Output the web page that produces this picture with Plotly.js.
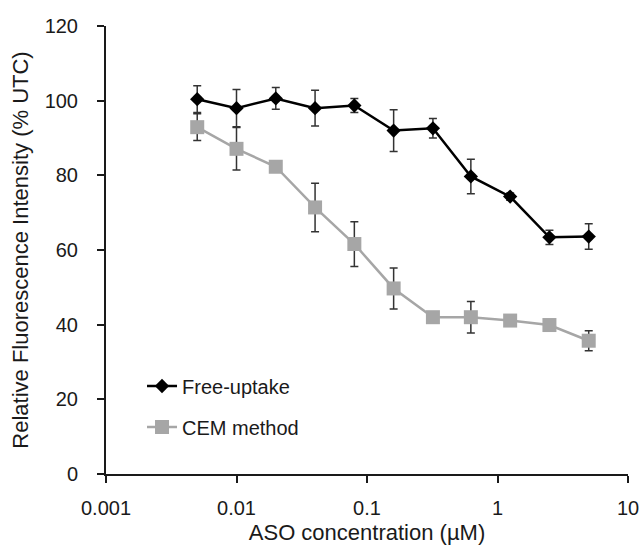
<!DOCTYPE html>
<html>
<head>
<meta charset="utf-8">
<script src="https://cdn.plot.ly/plotly-3.0.1.min.js"></script>
<style>html,body{margin:0;padding:0;background:#fff;}#chart{width:642px;height:547px;}</style>
</head>
<body>
<div id="chart"></div>
<script>
// Data
const concentrations = [0.005, 0.01, 0.02, 0.04, 0.08, 0.16, 0.32, 0.625, 1.25, 2.5, 5];
const freeUptake = [100.4, 98.0, 100.6, 98.0, 98.7, 92.0, 92.6, 79.7, 74.3, 63.4, 63.6];
const freeUptakeErr = [3.6, 5.0, 2.9, 4.8, 1.9, 5.6, 2.6, 4.6, 1.0, 1.9, 3.4];
const cemMethod = [92.9, 87.1, 82.3, 71.4, 61.6, 49.7, 42.0, 42.0, 41.1, 39.9, 35.7];
const cemMethodErr = [3.6, 5.7, 1.0, 6.5, 6.0, 5.5, 1.0, 4.2, 1.0, 1.0, 2.7];
const xTickVals = [0.001, 0.01, 0.1, 1, 10];
const xTickText = ["0.001", "0.01", "0.1", "1", "10"];
const yTickVals = [0, 20, 40, 60, 80, 100, 120];

const FONT = "Arial, 'Liberation Sans', sans-serif";
const TXT = "#1a1a1a";

const traces = [
  {
    x: concentrations, y: cemMethod, name: "CEM method", legendgroup: "b",
    type: "scatter", mode: "lines+markers",
    line: {color: "#a6a6a6", width: 2.5},
    marker: {symbol: "square", size: 14, color: "#a6a6a6"},
    error_y: {type: "data", array: cemMethodErr, visible: true, color: "#333333", thickness: 1.5, width: 4},
    legendrank: 2
  },
  {
    x: concentrations, y: freeUptake, name: "Free-uptake", legendgroup: "a",
    type: "scatter", mode: "lines+markers",
    line: {color: "#000000", width: 2.5},
    marker: {symbol: "diamond", size: 11, color: "#000000"},
    error_y: {type: "data", array: freeUptakeErr, visible: true, color: "#333333", thickness: 1.5, width: 4},
    legendrank: 1
  }
];

const layout = {
  width: 642, height: 547,
  margin: {l: 106, r: 14, t: 26, b: 73},
  paper_bgcolor: "#ffffff", plot_bgcolor: "#ffffff",
  font: {family: FONT, color: TXT, size: 20},
  showlegend: true,
  legend: {
    x: 0.069, y: 0.24, xanchor: "left", yanchor: "top",
    bgcolor: "rgba(0,0,0,0)", font: {family: FONT, size: 20, color: TXT},
    traceorder: "grouped", tracegroupgap: 12
  },
  xaxis: {
    type: "log", range: [-3, 1],
    tickvals: xTickVals, ticktext: xTickText,
    ticks: "outside", ticklen: 7, tickwidth: 2, tickcolor: "#1a1a1a",
    showline: true, linecolor: "#1a1a1a", linewidth: 2,
    showgrid: false, zeroline: false,
    tickfont: {family: FONT, size: 20, color: TXT},
    ticklabelstandoff: 8,
    title: {text: "ASO concentration (µM)", font: {family: FONT, size: 22, color: TXT}, standoff: 7}
  },
  yaxis: {
    range: [0, 120], tickvals: yTickVals,
    ticks: "outside", ticklen: 7, tickwidth: 2, tickcolor: "#1a1a1a",
    showline: true, linecolor: "#1a1a1a", linewidth: 2,
    showgrid: false, zeroline: false,
    tickfont: {family: FONT, size: 20, color: TXT},
    ticklabelstandoff: 15,
    title: {text: "Relative Fluorescence Intensity (% UTC)", font: {family: FONT, size: 22, color: TXT}, standoff: 10}
  }
};

Plotly.newPlot("chart", traces, layout, {displayModeBar: false, staticPlot: true});
</script>
</body>
</html>
